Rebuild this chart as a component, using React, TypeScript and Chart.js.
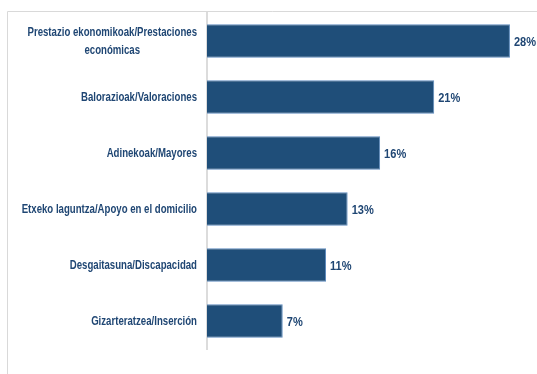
import React, { useEffect, useRef } from "react";
import { Chart, registerables } from "chart.js";

Chart.register(...registerables);

const categories: (string | string[])[] = [
  ["Prestazio ekonomikoak/Prestaciones", "económicas"],
  "Balorazioak/Valoraciones",
  "Adinekoak/Mayores",
  "Etxeko laguntza/Apoyo en el domicilio",
  "Desgaitasuna/Discapacidad",
  "Gizarteratzea/Inserción",
];
const values = [28, 21, 16, 13, 11, 7];
const valueLabels = ["28%", "21%", "16%", "13%", "11%", "7%"];

const TEXT_COLOR = "#1f4673";
const BAR_COLOR = "#1f4e79";
const FONT = 'bold 13px "Liberation Sans", Arial, sans-serif';

const framePlugin = {
  id: "frame",
  beforeDraw(chart: any) {
    const ctx = chart.ctx;
    ctx.save();
    ctx.strokeStyle = "#d9d9d9";
    ctx.lineWidth = 1;
    ctx.beginPath();
    ctx.moveTo(7.5, chart.height);
    ctx.lineTo(7.5, 11.5);
    ctx.lineTo(chart.width, 11.5);
    ctx.stroke();
    ctx.restore();
  },
};

const labelsPlugin = {
  id: "customLabels",
  afterDraw(chart: any) {
    const ctx = chart.ctx;
    const yScale = chart.scales.y;
    ctx.save();
    ctx.font = FONT;
    ctx.fillStyle = TEXT_COLOR;
    ctx.textBaseline = "middle";
    const rightX = chart.chartArea.left - 10;
    const squeeze = 0.74;
    const lineH = 18;
    categories.forEach((cat, i) => {
      const lines = Array.isArray(cat) ? cat : [cat];
      const y = yScale.getPixelForTick(i);
      const widths = lines.map((l) => ctx.measureText(l).width * squeeze);
      const blockW = Math.max(...widths);
      const cx = rightX - blockW / 2;
      ctx.textAlign = "center";
      lines.forEach((l, j) => {
        const ly = y + (j - (lines.length - 1) / 2) * lineH;
        ctx.fillText(l, cx, ly, widths[j]);
      });
    });
    const meta = chart.getDatasetMeta(0);
    ctx.textAlign = "left";
    meta.data.forEach((el: any, i: number) => {
      const t = valueLabels[i];
      const w = ctx.measureText(t).width * 0.85;
      ctx.fillText(t, el.x + 4, el.y + 1, w);
    });
    ctx.restore();
  },
};

export default function App() {
  const ref = useRef<HTMLCanvasElement | null>(null);
  useEffect(() => {
    if (!ref.current) return;
    const chart = new Chart(ref.current, {
      type: "bar",
      data: {
        labels: categories as any,
        datasets: [
          {
            data: values,
            backgroundColor: BAR_COLOR,
            borderColor: "#5f8bbd",
            borderWidth: 1,
            barPercentage: 0.6,
            categoryPercentage: 1,
          },
        ],
      },
      options: {
        indexAxis: "y",
        animation: false,
        responsive: false,
        layout: { padding: { left: 207, top: 13, bottom: 25, right: 5.4 } },
        plugins: {
          legend: { display: false },
          tooltip: { enabled: false },
        },
        scales: {
          x: { display: false, min: 0, max: 30 },
          y: {
            ticks: { display: false },
            grid: { display: false, drawTicks: false },
            border: { display: true, color: "#dcdcdc", width: 2 },
          },
        },
      },
      plugins: [framePlugin, labelsPlugin],
    });
    return () => chart.destroy();
  }, []);
  return (
    <div style={{ position: "fixed", left: 0, top: 0, width: 537, height: 374, background: "#fff" }}>
      <canvas ref={ref} width={537} height={374} style={{ display: "block" }} />
    </div>
  );
}
